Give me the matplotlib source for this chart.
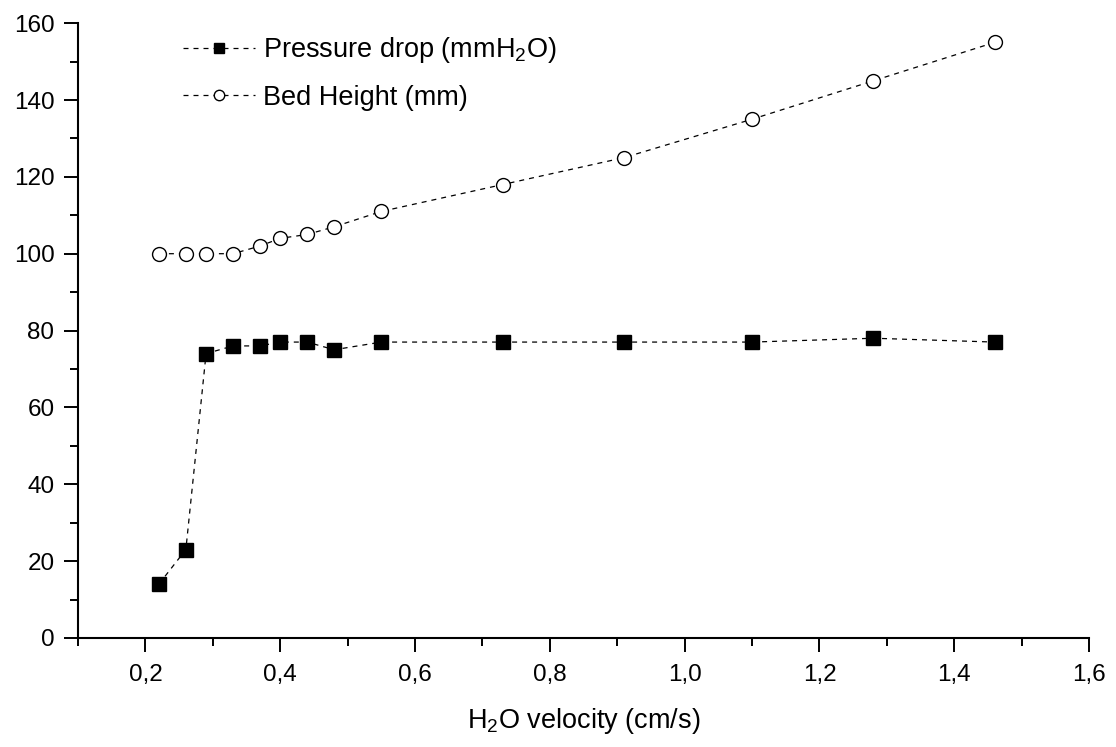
import matplotlib
matplotlib.use('Agg')
import matplotlib.pyplot as plt
from matplotlib.ticker import MultipleLocator, FuncFormatter

plt.rcParams['font.family'] = ['Liberation Sans', 'DejaVu Sans']
plt.rcParams['mathtext.default'] = 'regular'

# data
velocity = [0.22, 0.26, 0.29, 0.33, 0.37, 0.40, 0.44, 0.48, 0.55, 0.73, 0.91, 1.10, 1.28, 1.46]
pressure_drop = [14, 23, 74, 76, 76, 77, 77, 75, 77, 77, 77, 77, 78, 77]
bed_height = [100, 100, 100, 100, 102, 104, 105, 107, 111, 118, 125, 135, 145, 155]

fig = plt.figure(figsize=(11.16, 7.47), dpi=100, facecolor='white')
ax = fig.add_axes([0.0699, 0.146, 0.906, 0.823])

dash = (0, (4, 4))
ax.plot(velocity, pressure_drop, color='black', lw=0.9, ls=dash,
        marker='s', ms=10, mfc='black', mec='black',
        label='Pressure drop (mmH$_2$O)')
ax.plot(velocity, bed_height, color='black', lw=0.9, ls=dash,
        marker='o', ms=10, mfc='white', mec='black', mew=1.0,
        label='Bed Height (mm)')

ax.set_xlim(0.1, 1.6)
ax.set_ylim(0, 160)
ax.xaxis.set_major_locator(MultipleLocator(0.2))
ax.xaxis.set_minor_locator(MultipleLocator(0.1))
ax.yaxis.set_major_locator(MultipleLocator(20))
ax.yaxis.set_minor_locator(MultipleLocator(10))
ax.xaxis.set_major_formatter(FuncFormatter(lambda v, p: ('%.1f' % v).replace('.', ',') if v > 0.15 else ''))
ax.yaxis.set_major_formatter(FuncFormatter(lambda v, p: '%d' % v))

for s in ['top', 'right']:
    ax.spines[s].set_visible(False)
for s in ['left', 'bottom']:
    ax.spines[s].set_linewidth(1.5)

ax.tick_params(which='major', direction='out', length=10, width=1.4, labelsize=17.5, colors='black')
ax.tick_params(which='minor', direction='out', length=5.5, width=1.4)
ax.tick_params(axis='x', which='major', pad=9)
ax.tick_params(axis='y', which='major', pad=7)

ax.set_xlabel('H$_2$O velocity (cm/s)', fontsize=19.5, labelpad=14)

ax.legend(loc='upper left', bbox_to_anchor=(0.104, 0.98), frameon=False,
          fontsize=19.5, handlelength=2.67, handletextpad=0.26, labelspacing=0.72,
          borderpad=0, borderaxespad=0, markerscale=0.75)

plt.savefig('out.png', dpi=100)
